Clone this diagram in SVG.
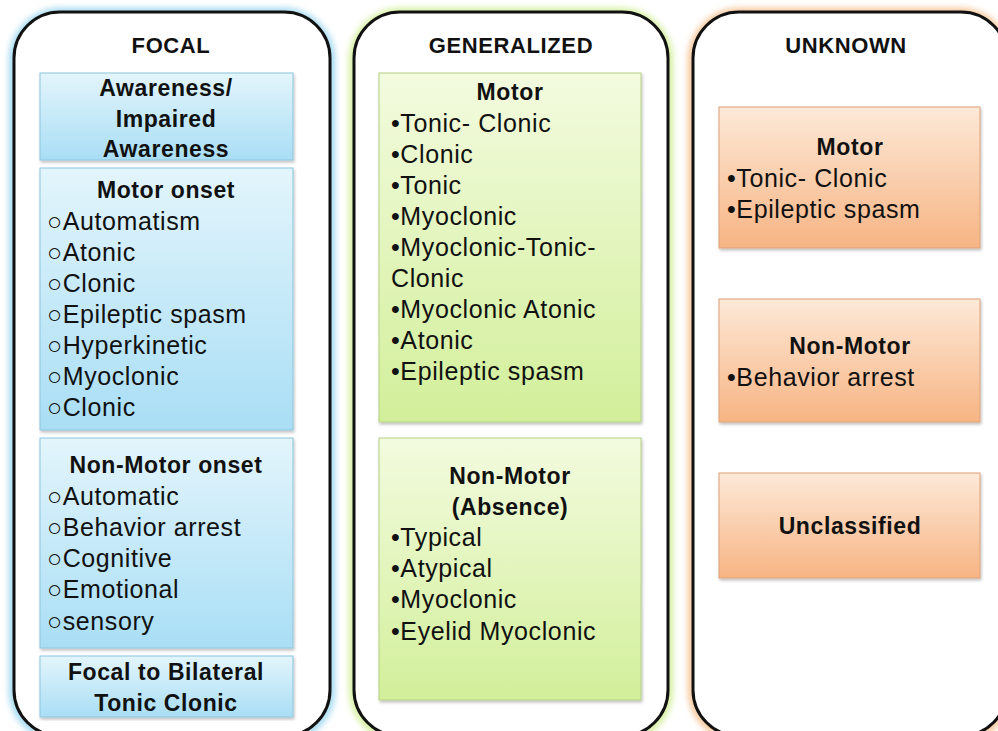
<svg xmlns="http://www.w3.org/2000/svg" width="998" height="731" viewBox="0 0 998 731">
<defs>
<linearGradient id="gBlue" x1="0" y1="0" x2="0" y2="1"><stop offset="0" stop-color="#e3f5fc"/><stop offset="1" stop-color="#a9def5"/></linearGradient>
<linearGradient id="gGreen" x1="0" y1="0" x2="0" y2="1"><stop offset="0" stop-color="#f3fbdf"/><stop offset="1" stop-color="#d2ef9a"/></linearGradient>
<linearGradient id="gOrange" x1="0" y1="0" x2="0" y2="1"><stop offset="0" stop-color="#fde9d8"/><stop offset="1" stop-color="#f7b483"/></linearGradient>
<filter id="glowB" x="-10%" y="-10%" width="120%" height="120%"><feGaussianBlur stdDeviation="3"/></filter>
<filter id="sh" x="-5%" y="-5%" width="110%" height="110%"><feDropShadow dx="1" dy="2" stdDeviation="1.5" flood-color="#000" flood-opacity="0.25"/></filter>
</defs>
<style>
.panel{fill:#fff;stroke:#111;stroke-width:3}
.glow{fill:none;stroke-width:8;filter:url(#glowB)}
.title{font-family:"Liberation Sans",Arial,sans-serif;font-weight:bold;font-size:22px;letter-spacing:0.6px;fill:#111;text-anchor:middle}
.hd{font-family:"Liberation Sans",Arial,sans-serif;font-weight:bold;font-size:23px;letter-spacing:0.6px;fill:#111;text-anchor:middle}
.it{font-family:"Liberation Sans",Arial,sans-serif;font-size:25px;letter-spacing:0.6px;fill:#111}
.bb{fill:url(#gBlue);stroke:#8cc6dc;stroke-width:1;filter:url(#sh)}
.bg{fill:url(#gGreen);stroke:#b5cf86;stroke-width:1;filter:url(#sh)}
.bo{fill:url(#gOrange);stroke:#dca27a;stroke-width:1;filter:url(#sh)}
</style>

<g id="panel-focal">
<rect class="glow" x="13" y="12" width="318" height="726" rx="48" stroke="#9fd8f0"/>
<rect class="panel" x="14" y="12" width="316" height="724" rx="46"/>
<text class="title" x="171" y="53">FOCAL</text>
</g>
<g id="panel-generalized">
<rect class="glow" x="353" y="12" width="316" height="726" rx="48" stroke="#d4ef9c"/>
<rect class="panel" x="354" y="12" width="314" height="724" rx="46"/>
<text class="title" x="511" y="53">GENERALIZED</text>
</g>
<g id="panel-unknown">
<rect class="glow" x="692" y="12" width="316" height="726" rx="48" stroke="#f6c596"/>
<rect class="panel" x="693" y="12" width="314" height="724" rx="46"/>
<text class="title" x="846" y="53">UNKNOWN</text>
</g>

<g id="focal-awareness">
<rect class="bb" x="40" y="73" width="253" height="87"/>
<text class="hd" x="166" y="96">Awareness/</text>
<text class="hd" x="166" y="127">Impaired</text>
<text class="hd" x="166" y="157">Awareness</text>
</g>
<g id="focal-motor">
<rect class="bb" x="40" y="168" width="253" height="262"/>
<text class="hd" x="166" y="198">Motor onset</text>
<text class="it" x="47" y="230">○Automatism</text>
<text class="it" x="47" y="261">○Atonic</text>
<text class="it" x="47" y="292">○Clonic</text>
<text class="it" x="47" y="323">○Epileptic spasm</text>
<text class="it" x="47" y="354">○Hyperkinetic</text>
<text class="it" x="47" y="385">○Myoclonic</text>
<text class="it" x="47" y="416">○Clonic</text>
</g>
<g id="focal-nonmotor">
<rect class="bb" x="40" y="438" width="253" height="210"/>
<text class="hd" x="166" y="473">Non-Motor onset</text>
<text class="it" x="47" y="505">○Automatic</text>
<text class="it" x="47" y="536">○Behavior arrest</text>
<text class="it" x="47" y="567">○Cognitive</text>
<text class="it" x="47" y="598">○Emotional</text>
<text class="it" x="47" y="630">○sensory</text>
</g>
<g id="focal-bilateral">
<rect class="bb" x="40" y="656" width="253" height="61"/>
<text class="hd" x="166" y="680">Focal to Bilateral</text>
<text class="hd" x="166" y="711">Tonic Clonic</text>
</g>

<g id="gen-motor">
<rect class="bg" x="379" y="73" width="262" height="349"/>
<text class="hd" x="510" y="100">Motor</text>
<text class="it" x="391" y="132">•Tonic- Clonic</text>
<text class="it" x="391" y="163">•Clonic</text>
<text class="it" x="391" y="194">•Tonic</text>
<text class="it" x="391" y="225">•Myoclonic</text>
<text class="it" x="391" y="256">•Myoclonic-Tonic-</text>
<text class="it" x="391" y="287">Clonic</text>
<text class="it" x="391" y="318">•Myoclonic Atonic</text>
<text class="it" x="391" y="349">•Atonic</text>
<text class="it" x="391" y="380">•Epileptic spasm</text>
</g>
<g id="gen-nonmotor">
<rect class="bg" x="379" y="438" width="262" height="262"/>
<text class="hd" x="510" y="484">Non-Motor</text>
<text class="hd" x="510" y="515">(Absence)</text>
<text class="it" x="391" y="546">•Typical</text>
<text class="it" x="391" y="577">•Atypical</text>
<text class="it" x="391" y="608">•Myoclonic</text>
<text class="it" x="391" y="640">•Eyelid Myoclonic</text>
</g>

<g id="unk-motor">
<rect class="bo" x="719" y="107" width="261" height="141"/>
<text class="hd" x="850" y="155">Motor</text>
<text class="it" x="727" y="187">•Tonic- Clonic</text>
<text class="it" x="727" y="218">•Epileptic spasm</text>
</g>
<g id="unk-nonmotor">
<rect class="bo" x="719" y="299" width="261" height="123"/>
<text class="hd" x="850" y="354">Non-Motor</text>
<text class="it" x="727" y="386">•Behavior arrest</text>
</g>
<g id="unk-unclassified">
<rect class="bo" x="719" y="473" width="261" height="105"/>
<text class="hd" x="850" y="534">Unclassified</text>
</g>
<g id="connectors"/>
</svg>
